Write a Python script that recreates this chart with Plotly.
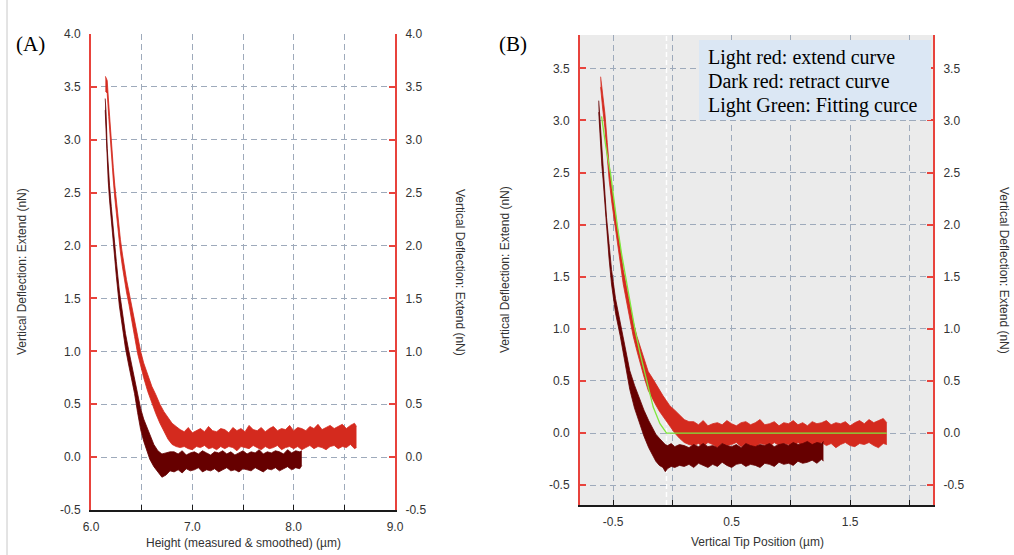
import plotly.graph_objects as go

# ---------------- data ----------------
a_x_ticks = [6.0, 6.5, 7.0, 7.5, 8.0, 8.5, 9.0]
a_x_labels = ['6.0', '', '7.0', '', '8.0', '', '9.0']
a_y_ticks = [-0.5, 0.0, 0.5, 1.0, 1.5, 2.0, 2.5, 3.0, 3.5, 4.0]
a_y_labels = ['-0.5', '0.0', '0.5', '1.0', '1.5', '2.0', '2.5', '3.0', '3.5', '4.0']
b_x_ticks = [-0.5, 0.0, 0.5, 1.0, 1.5, 2.0]
b_x_labels = ['-0.5', '', '0.5', '', '1.5', '']
b_y_ticks = [-0.5, 0.0, 0.5, 1.0, 1.5, 2.0, 2.5, 3.0, 3.5]
b_y_labels = ['-0.5', '0.0', '0.5', '1.0', '1.5', '2.0', '2.5', '3.0', '3.5']

# Panel A - extend curve (light red): x, upper and lower edge of the noise band
ext_a_x = [6.142, 6.16, 6.175, 6.19, 6.205, 6.22, 6.235, 6.25, 6.27, 6.29, 6.31, 6.33, 6.35, 6.375,
           6.40, 6.43, 6.46, 6.49, 6.52, 6.56, 6.60, 6.64, 6.68, 6.72, 6.76, 6.80, 6.84,
           6.88, 6.92, 6.96, 7.00, 7.04, 7.08, 7.12, 7.16, 7.20, 7.24, 7.28, 7.32, 7.36, 7.40,
           7.44, 7.48, 7.52, 7.56, 7.60, 7.64, 7.68, 7.72, 7.76, 7.80, 7.84, 7.88, 7.92, 7.96,
           8.00, 8.04, 8.08, 8.12, 8.16, 8.20, 8.24, 8.28, 8.32, 8.36, 8.40, 8.44, 8.48, 8.52,
           8.56, 8.60, 8.62]
ext_a_hi = [3.60, 3.56, 3.34, 3.11, 2.91, 2.74, 2.57, 2.42, 2.23, 2.06, 1.92, 1.79, 1.68, 1.56,
            1.43, 1.28, 1.12, 1.00, 0.89, 0.78, 0.67, 0.59, 0.50, 0.43, 0.37, 0.32, 0.29,
            0.26, 0.24, 0.28, 0.23, 0.25, 0.27, 0.24, 0.29, 0.25, 0.24, 0.27, 0.26, 0.23, 0.28,
            0.25, 0.27, 0.24, 0.30, 0.26, 0.25, 0.28, 0.24, 0.27, 0.29, 0.25, 0.27, 0.26, 0.30,
            0.25, 0.28, 0.27, 0.25, 0.29, 0.27, 0.31, 0.26, 0.28, 0.30, 0.27, 0.29, 0.31, 0.27,
            0.30, 0.32, 0.29]
ext_a_lo = [3.46, 3.44, 3.22, 2.99, 2.79, 2.62, 2.45, 2.30, 2.11, 1.94, 1.80, 1.67, 1.56, 1.44,
            1.29, 1.14, 0.98, 0.86, 0.75, 0.62, 0.51, 0.41, 0.32, 0.24, 0.17, 0.12, 0.10,
            0.09, 0.10, 0.08, 0.07, 0.10, 0.09, 0.11, 0.08, 0.09, 0.07, 0.10, 0.08, 0.10, 0.09,
            0.06, 0.10, 0.09, 0.08, 0.11, 0.09, 0.07, 0.10, 0.08, 0.09, 0.11, 0.07, 0.09, 0.10,
            0.08, 0.10, 0.07, 0.09, 0.11, 0.08, 0.10, 0.09, 0.07, 0.10, 0.11, 0.08, 0.10, 0.09,
            0.12, 0.08, 0.09]

# Panel A - retract curve (dark red)
ret_a_x = [6.140, 6.148, 6.16, 6.17, 6.183, 6.20, 6.215, 6.23, 6.25, 6.28, 6.31, 6.34, 6.37,
           6.40, 6.43, 6.46, 6.49, 6.52, 6.55, 6.58, 6.62, 6.66, 6.70, 6.74, 6.78,
           6.82, 6.86, 6.90, 6.94, 6.98, 7.02, 7.06, 7.10, 7.14, 7.18, 7.22, 7.26, 7.30, 7.34,
           7.38, 7.42, 7.46, 7.50, 7.54, 7.58, 7.62, 7.66, 7.70, 7.74, 7.78, 7.82, 7.86, 7.90,
           7.94, 7.98, 8.02, 8.06, 8.08]
ret_a_hi = [3.39, 3.27, 2.92, 2.75, 2.57, 2.37, 2.19, 2.04, 1.85, 1.57, 1.35, 1.17, 1.02,
            0.88, 0.74, 0.58, 0.46, 0.36, 0.29, 0.21, 0.12, 0.06, 0.03, 0.04, 0.05,
            0.05, 0.03, 0.06, 0.02, 0.04, 0.05, 0.03, 0.06, 0.04, 0.02, 0.05, 0.04, 0.06, 0.03,
            0.05, 0.02, 0.04, 0.06, 0.03, 0.05, 0.04, 0.07, 0.03, 0.05, 0.04, 0.06, 0.05, 0.03,
            0.07, 0.04, 0.06, 0.05, 0.06]
ret_a_lo = [3.28, 3.10, 2.78, 2.61, 2.43, 2.23, 2.05, 1.90, 1.71, 1.43, 1.21, 1.03, 0.88,
            0.74, 0.60, 0.42, 0.26, 0.15, 0.07, -0.02, -0.09, -0.14, -0.19, -0.17, -0.13,
            -0.14, -0.12, -0.15, -0.11, -0.13, -0.12, -0.10, -0.14, -0.12, -0.13, -0.11, -0.14, -0.12, -0.10,
            -0.13, -0.12, -0.14, -0.11, -0.12, -0.13, -0.10, -0.12, -0.14, -0.11, -0.12, -0.10, -0.13, -0.11,
            -0.09, -0.12, -0.10, -0.11, -0.08]

# Panel B - extend curve (light red)
ext_b_x = [-0.606, -0.600, -0.59, -0.57, -0.55, -0.534, -0.51, -0.49, -0.477, -0.45, -0.415, -0.38,
           -0.35, -0.331, -0.30, -0.27, -0.24, -0.204, -0.17, -0.14, -0.11, -0.08, -0.05, -0.02,
           0.02, 0.06, 0.10, 0.14,
           0.18, 0.22, 0.26, 0.30, 0.34, 0.38, 0.42, 0.46, 0.50, 0.54, 0.58, 0.62, 0.66, 0.70,
           0.74, 0.78, 0.82, 0.86, 0.90, 0.94, 0.98, 1.02, 1.06, 1.10, 1.14, 1.18, 1.22, 1.26,
           1.30, 1.34, 1.38, 1.42, 1.46, 1.50, 1.54, 1.58, 1.62, 1.66, 1.70, 1.74, 1.78, 1.81]
ext_b_hi = [3.42, 3.36, 3.27, 3.07, 2.79, 2.57, 2.34, 2.17, 2.07, 1.87, 1.57, 1.36,
            1.17, 1.07, 0.93, 0.82, 0.70, 0.59, 0.53, 0.47, 0.41, 0.36, 0.31, 0.26,
            0.22, 0.17, 0.13, 0.11,
            0.11, 0.08, 0.12, 0.07, 0.09, 0.10, 0.08, 0.12, 0.09, 0.07, 0.10, 0.11, 0.08, 0.10,
            0.13, 0.08, 0.09, 0.11, 0.07, 0.10, 0.09, 0.12, 0.08, 0.10, 0.07, 0.11, 0.09, 0.10,
            0.12, 0.08, 0.10, 0.09, 0.11, 0.07, 0.10, 0.12, 0.09, 0.13, 0.10, 0.12, 0.14, 0.10]
ext_b_lo = [3.32, 3.22, 3.13, 2.93, 2.65, 2.43, 2.20, 2.03, 1.93, 1.73, 1.43, 1.22,
            1.03, 0.93, 0.79, 0.66, 0.54, 0.41, 0.33, 0.27, 0.21, 0.16, 0.11, 0.06,
            0.00, -0.05, -0.09, -0.11,
            -0.12, -0.10, -0.13, -0.09, -0.11, -0.14, -0.10, -0.12, -0.11, -0.09, -0.13, -0.10, -0.12, -0.14,
            -0.10, -0.11, -0.13, -0.09, -0.12, -0.10, -0.11, -0.14, -0.09, -0.12, -0.10, -0.13, -0.11, -0.09,
            -0.12, -0.10, -0.14, -0.11, -0.09, -0.12, -0.13, -0.10, -0.11, -0.09, -0.12, -0.14, -0.10, -0.11]

# Panel B - retract curve (dark red)
ret_b_x = [-0.622, -0.615, -0.605, -0.595, -0.585, -0.57, -0.556, -0.535, -0.514, -0.48, -0.44,
           -0.40, -0.36, -0.32, -0.28, -0.24, -0.20, -0.17, -0.14, -0.11, -0.08, -0.06, -0.04,
           -0.01, 0.02, 0.06,
           0.10, 0.14, 0.18, 0.22, 0.26, 0.30, 0.34, 0.38, 0.42, 0.46, 0.50, 0.54, 0.58, 0.62,
           0.66, 0.70, 0.74, 0.78, 0.82, 0.86, 0.90, 0.94, 0.98, 1.02, 1.06, 1.10, 1.14, 1.18,
           1.22, 1.26, 1.275]
ret_b_hi = [3.19, 3.07, 2.87, 2.70, 2.57, 2.32, 2.07, 1.82, 1.57, 1.29, 1.07,
            0.84, 0.60, 0.46, 0.33, 0.22, 0.12, 0.05, -0.01, -0.05, -0.09, -0.11, -0.12,
            -0.10, -0.13, -0.11,
            -0.12, -0.14, -0.11, -0.13, -0.10, -0.13, -0.12, -0.14, -0.10, -0.12, -0.13, -0.11, -0.14, -0.10,
            -0.12, -0.13, -0.11, -0.12, -0.10, -0.13, -0.11, -0.10, -0.12, -0.09, -0.11, -0.10, -0.08, -0.11,
            -0.09, -0.10, -0.08]
ret_b_lo = [3.08, 2.93, 2.73, 2.56, 2.43, 2.18, 1.93, 1.68, 1.43, 1.15, 0.93,
            0.68, 0.42, 0.24, 0.10, -0.03, -0.14, -0.21, -0.27, -0.31, -0.33, -0.37, -0.34,
            -0.32, -0.33, -0.31,
            -0.32, -0.30, -0.33, -0.29, -0.31, -0.33, -0.30, -0.32, -0.28, -0.31, -0.33, -0.30, -0.29, -0.32,
            -0.30, -0.31, -0.33, -0.29, -0.30, -0.32, -0.28, -0.30, -0.29, -0.31, -0.27, -0.29, -0.28, -0.26,
            -0.29, -0.25, -0.27]

# Panel B - fitting curve (light green)
fit_b_x = [-0.598, -0.562, -0.522, -0.494, -0.466, -0.429, -0.395, -0.359, -0.317, -0.274,
           -0.218, -0.162, -0.105, -0.049, 1.81]
fit_b_y = [3.04, 2.75, 2.49, 2.24, 2.00, 1.72, 1.50, 1.25, 1.00, 0.77, 0.50, 0.25, 0.09, 0.0, 0.0]

contact_b_x = -0.05

legend_lines = ['Light red: extend curve', 'Dark red: retract curve', 'Light Green: Fitting curce']

# ---------------- styling ----------------
W, H = 1014, 555
EXT = '#d42a1e'
RET = '#660000'
FIT = '#7fe83c'
AXRED = '#e8433c'
GRID = '#9eaabb'
TXT = '#333333'
SANS = 'Liberation Sans, Arial, sans-serif'
SERIF = 'Liberation Serif, Times New Roman, serif'


def px(x):
    return x / W


def py(y):
    return 1 - y / H


fig = go.Figure()


def band(x, lo, hi, color, xa, ya):
    fig.add_trace(go.Scatter(x=x, y=lo, mode='lines', line=dict(color=color, width=0.8),
                             xaxis=xa, yaxis=ya, hoverinfo='skip', showlegend=False))
    fig.add_trace(go.Scatter(x=x, y=hi, mode='lines', line=dict(color=color, width=0.8),
                             fill='tonexty', fillcolor=color,
                             xaxis=xa, yaxis=ya, hoverinfo='skip', showlegend=False))


band(ext_a_x, ext_a_lo, ext_a_hi, EXT, 'x', 'y')
band(ret_a_x, ret_a_lo, ret_a_hi, RET, 'x', 'y')
band(ext_b_x, ext_b_lo, ext_b_hi, EXT, 'x2', 'y3')
band(ret_b_x, ret_b_lo, ret_b_hi, RET, 'x2', 'y3')
fig.add_trace(go.Scatter(x=fit_b_x, y=fit_b_y, mode='lines', line=dict(color=FIT, width=1.3),
                         xaxis='x2', yaxis='y3', hoverinfo='skip', showlegend=False))
# empty traces so the right-hand axes exist
fig.add_trace(go.Scatter(x=[], y=[], xaxis='x', yaxis='y2', showlegend=False))
fig.add_trace(go.Scatter(x=[], y=[], xaxis='x2', yaxis='y4', showlegend=False))

tickfont = dict(family=SANS, size=12, color=TXT)
xcommon = dict(showline=True, linecolor='#1a1a1a', linewidth=2, ticks='inside', ticklen=5,
               tickcolor='#1a1a1a', tickwidth=1, showgrid=True, gridcolor=GRID, gridwidth=1,
               griddash='6px,4px', zeroline=False, tickfont=tickfont, tickmode='array',
               automargin=False, ticklabelstandoff=5)
ycommon = dict(showline=True, linecolor=AXRED, linewidth=2, ticks='inside', ticklen=6,
               tickcolor=AXRED, tickwidth=2, zeroline=False, tickfont=tickfont, tickmode='array',
               automargin=False, ticklabelstandoff=6)

a_dom_x = [px(91), px(395)]
a_dom_y = [py(510), py(34)]
b_dom_x = [px(580), px(933)]
b_dom_y = [py(505), py(35)]

fig.update_layout(
    template='none',
    width=W, height=H, margin=dict(l=0, r=0, t=0, b=0, pad=0), autosize=False,
    paper_bgcolor='white', plot_bgcolor='rgba(0,0,0,0)', showlegend=False,
    xaxis=dict(domain=a_dom_x, range=[6.0, 9.0], tickvals=a_x_ticks, ticktext=a_x_labels,
               anchor='y', **xcommon),
    yaxis=dict(domain=a_dom_y, range=[-0.5, 4.0], tickvals=a_y_ticks, ticktext=a_y_labels,
               anchor='x', showgrid=True, gridcolor=GRID, griddash='6px,4px', **ycommon),
    yaxis2=dict(overlaying='y', side='right', anchor='x', range=[-0.5, 4.0], tickvals=a_y_ticks,
                ticktext=a_y_labels, showgrid=False, **ycommon),
    xaxis2=dict(domain=b_dom_x, range=[-0.78, 2.2], tickvals=b_x_ticks, ticktext=b_x_labels,
                anchor='y3', **xcommon),
    yaxis3=dict(domain=b_dom_y, range=[-0.69, 3.82], tickvals=b_y_ticks, ticktext=b_y_labels,
                anchor='x2', showgrid=True, gridcolor=GRID, griddash='6px,4px', **ycommon),
    yaxis4=dict(overlaying='y3', side='right', anchor='x2', range=[-0.69, 3.82], tickvals=b_y_ticks,
                ticktext=b_y_labels, showgrid=False, **ycommon),
)

shapes = [
    # grey plot area of panel B
    dict(type='rect', xref='x2 domain', yref='y3 domain', x0=0, x1=1, y0=0, y1=1,
         fillcolor='#ebebeb', line=dict(width=0), layer='below'),
    # contact point marker
    dict(type='line', xref='x2', yref='y3 domain', x0=contact_b_x, x1=contact_b_x, y0=0, y1=1,
         line=dict(color='white', width=1.5, dash='5px,3px'), layer='below'),
    # legend box
    dict(type='rect', xref='paper', yref='paper', x0=px(699), x1=px(931), y0=py(120), y1=py(40),
         fillcolor='#dbe7f4', line=dict(width=0), layer='above'),
    # thin page border at the far left
    dict(type='line', xref='paper', yref='paper', x0=px(7), x1=px(7), y0=0, y1=1,
         line=dict(color='#c8c8c8', width=1), layer='above'),
]
fig.update_layout(shapes=shapes)

ann = []
title_font = dict(family=SANS, size=12, color=TXT)
ann.append(dict(text='(A)', x=px(14), y=py(44), xref='paper', yref='paper', xanchor='left',
                yanchor='middle', showarrow=False, font=dict(family=SERIF, size=21, color='black')))
ann.append(dict(text='(B)', x=px(497), y=py(44), xref='paper', yref='paper', xanchor='left',
                yanchor='middle', showarrow=False, font=dict(family=SERIF, size=21, color='black')))
ytitle = 'Vertical Deflection: Extend (nN)'
for xx, yy, ang in [(22, 272, -90), (460, 272, 90), (505, 270, -90), (1004, 270, 90)]:
    ann.append(dict(text=ytitle, x=px(xx), y=py(yy), xref='paper', yref='paper', xanchor='center',
                    yanchor='middle', textangle=ang, showarrow=False, font=title_font))
ann.append(dict(text='Height (measured &amp; smoothed) (µm)', x=px(243), y=py(543), xref='paper',
                yref='paper', xanchor='center', yanchor='middle', showarrow=False, font=title_font))
ann.append(dict(text='Vertical Tip Position (µm)', x=px(757), y=py(542), xref='paper',
                yref='paper', xanchor='center', yanchor='middle', showarrow=False, font=title_font))
for i, line in enumerate(legend_lines):
    ann.append(dict(text=line, x=px(706), y=py(57 + 24 * i), xref='paper', yref='paper',
                    xanchor='left', yanchor='middle', showarrow=False,
                    font=dict(family=SERIF, size=20, color='black')))
fig.update_layout(annotations=ann)

fig.write_html('out.html')
